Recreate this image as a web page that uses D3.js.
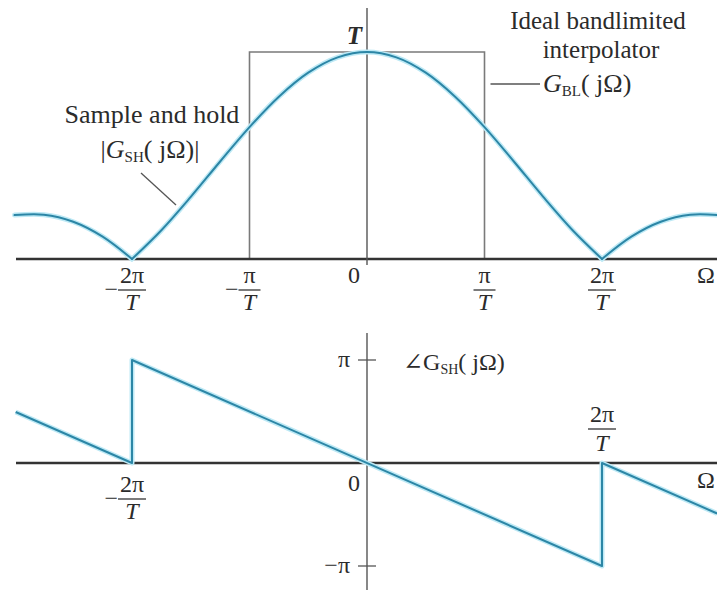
<!DOCTYPE html>
<html>
<head>
<meta charset="utf-8">
<script src="https://cdn.jsdelivr.net/npm/d3@7"></script>
<style>
  html, body { margin: 0; padding: 0; background: #fff; }
  svg { display: block; }
  text { font-family: "Liberation Serif", "DejaVu Serif", serif; fill: #2b2b2b; }
</style>
</head>
<body>
<svg id="chart" width="717" height="590"></svg>
<script>
// Frequency in units of pi/T, magnitude in units of T, phase in units of pi.
const magOmega  = [-3, -2.75, -2.5, -2.25, -2, -1.75, -1.5, -1.25, -1, -0.75, -0.5, -0.25, 0,
                   0.25, 0.5, 0.75, 1, 1.25, 1.5, 1.75, 2, 2.25, 2.5, 2.75, 3];
const magValues = [0.212, 0.214, 0.180, 0.108, 0, 0.139, 0.300, 0.471, 0.637, 0.784, 0.900, 0.974, 1,
                   0.974, 0.900, 0.784, 0.637, 0.471, 0.300, 0.139, 0, 0.108, 0.180, 0.214, 0.212];

// Ideal bandlimited interpolator: passband edges and gain
const idealOmega  = [-1, -1, 1, 1];
const idealValues = [0, 1, 1, 0];

// Phase of the sample-and-hold response (sawtooth with jumps at +-2pi/T)
const phaseOmega  = [-2.99, -2, -2, 2, 2, 2.98];
const phaseValues = [0.495, 0, 1, -1, 0, -0.49];

// Tick labels on the frequency axes
const topTicks    = [{v: -2, sign: true, num: "2π"}, {v: -1, sign: true, num: "π"},
                     {v: 1, sign: false, num: "π"}, {v: 2, sign: false, num: "2π"}];
const phaseTicks  = [{v: 1, label: "π"}, {v: -1, label: "−π"}];

const svg = d3.select("#chart");

const x = d3.scaleLinear().domain([-3, 3]).range([14.5, 719.5]);
const yMag = d3.scaleLinear().domain([0, 1]).range([259, 52]);
const yPh  = d3.scaleLinear().domain([-1, 1]).range([566, 360]);

const curveCore = "#2c86a6", curveGlow = "#bde9f5";
const tickFont = 24, annFont = 26;

// ---------- magnitude panel ----------
// ideal lowpass rectangle
const lineIdeal = d3.line().x((d, i) => x(idealOmega[i])).y(d => yMag(d));
svg.append("path").attr("d", lineIdeal(idealValues))
  .attr("fill", "none").attr("stroke", "#7a7a7a").attr("stroke-width", 1.6);

// axes
svg.append("line").attr("x1", 16).attr("x2", 717).attr("y1", yMag(0)).attr("y2", yMag(0))
  .attr("stroke", "#333").attr("stroke-width", 2.6);
svg.append("line").attr("x1", x(0)).attr("x2", x(0)).attr("y1", 8).attr("y2", yMag(0) + 6)
  .attr("stroke", "#555").attr("stroke-width", 1.4);

// magnitude curve, drawn lobe by lobe so the nulls stay sharp
const pts = magOmega.map((w, i) => [w, magValues[i]]);
const lobes = [];
let cur = [];
pts.forEach((p, i) => {
  cur.push(p);
  if (p[1] === 0 && i > 0 && i < pts.length - 1) { lobes.push(cur); cur = [p]; }
});
lobes.push(cur);
const lineMag = d3.line().x(d => x(d[0])).y(d => yMag(d[1])).curve(d3.curveCatmullRom.alpha(0.5));
lobes.forEach(l => {
  svg.append("path").attr("d", lineMag(l)).attr("fill", "none")
    .attr("stroke", curveGlow).attr("stroke-width", 5).attr("stroke-linecap", "round");
});
lobes.forEach(l => {
  svg.append("path").attr("d", lineMag(l)).attr("fill", "none")
    .attr("stroke", curveCore).attr("stroke-width", 2).attr("stroke-linecap", "round");
});

// fraction-style tick labels
function fraction(g, cx, numBase, barY, denBase, num, sign) {
  const w = num.length > 1 ? 14 : 11;
  g.append("text").attr("x", cx).attr("y", numBase).attr("text-anchor", "middle")
    .attr("font-size", tickFont).text(num);
  g.append("line").attr("x1", cx - w).attr("x2", cx + w).attr("y1", barY).attr("y2", barY)
    .attr("stroke", "#333").attr("stroke-width", 1.3);
  g.append("text").attr("x", cx).attr("y", denBase).attr("text-anchor", "middle")
    .attr("font-size", tickFont).attr("font-style", "italic").text("T");
  if (sign) {
    g.append("text").attr("x", cx - w).attr("y", barY + 7).attr("text-anchor", "end")
      .attr("font-size", tickFont).text("−");
  }
}
const gTop = svg.append("g");
topTicks.forEach(t => fraction(gTop, x(t.v), 283, 290, 310, t.num, t.sign));
gTop.append("text").attr("x", x(0) - 13).attr("y", 283).attr("text-anchor", "middle")
  .attr("font-size", tickFont).text("0");
gTop.append("text").attr("x", 706).attr("y", 283).attr("text-anchor", "middle")
  .attr("font-size", tickFont).text("Ω");
gTop.append("text").attr("x", x(0) - 5).attr("y", 44).attr("text-anchor", "end")
  .attr("font-size", 25).attr("font-style", "italic").attr("font-weight", "bold").text("T");

// annotations
const ann = svg.append("g").attr("font-size", annFont);
ann.append("text").attr("x", 152).attr("y", 123).attr("text-anchor", "middle").text("Sample and hold");
const gsh = ann.append("text").attr("x", 150).attr("y", 158).attr("text-anchor", "middle");
gsh.append("tspan").text("|");
gsh.append("tspan").attr("font-style", "italic").text("G");
gsh.append("tspan").attr("font-size", 15).attr("dy", 4).text("SH");
gsh.append("tspan").attr("dy", -4).text("( j");
gsh.append("tspan").text("Ω)|");
ann.append("line").attr("x1", 141).attr("y1", 173).attr("x2", 176).attr("y2", 205)
  .attr("stroke", "#555").attr("stroke-width", 1.3);

ann.append("text").attr("x", 598).attr("y", 29).attr("text-anchor", "middle")
  .attr("font-size", 25).text("Ideal bandlimited");
ann.append("text").attr("x", 601).attr("y", 58).attr("text-anchor", "middle")
  .attr("font-size", 25).text("interpolator");
ann.append("line").attr("x1", x(1) + 6).attr("y1", 84).attr("x2", 540).attr("y2", 84)
  .attr("stroke", "#555").attr("stroke-width", 1.3);
const gbl = ann.append("text").attr("x", 543).attr("y", 92);
gbl.append("tspan").attr("font-style", "italic").text("G");
gbl.append("tspan").attr("font-size", 15).attr("dy", 4).text("BL");
gbl.append("tspan").attr("dy", -4).text("( j");
gbl.append("tspan").text("Ω)");

// ---------- phase panel ----------
svg.append("line").attr("x1", 16).attr("x2", 717).attr("y1", yPh(0)).attr("y2", yPh(0))
  .attr("stroke", "#333").attr("stroke-width", 2.6);
svg.append("line").attr("x1", x(0)).attr("x2", x(0)).attr("y1", 333).attr("y2", 590)
  .attr("stroke", "#555").attr("stroke-width", 1.4);
phaseTicks.forEach(t => {
  svg.append("line").attr("x1", x(0) - 9).attr("x2", x(0) + 9).attr("y1", yPh(t.v)).attr("y2", yPh(t.v))
    .attr("stroke", "#555").attr("stroke-width", 1.3);
  svg.append("text").attr("x", x(0) - 17).attr("y", yPh(t.v) + 7).attr("text-anchor", "end")
    .attr("font-size", tickFont).text(t.label);
});

const linePh = d3.line().x((d, i) => x(phaseOmega[i])).y(d => yPh(d));
svg.append("path").attr("d", linePh(phaseValues)).attr("fill", "none")
  .attr("stroke", curveGlow).attr("stroke-width", 5).attr("stroke-linejoin", "round");
svg.append("path").attr("d", linePh(phaseValues)).attr("fill", "none")
  .attr("stroke", curveCore).attr("stroke-width", 2).attr("stroke-linejoin", "round");

const gBot = svg.append("g");
fraction(gBot, x(-2), 492, 499, 519, "2π", true);
fraction(gBot, x(2), 422, 429, 451, "2π", false);
gBot.append("text").attr("x", x(0) - 13).attr("y", 491).attr("text-anchor", "middle")
  .attr("font-size", tickFont).text("0");
gBot.append("text").attr("x", 706).attr("y", 488).attr("text-anchor", "middle")
  .attr("font-size", tickFont).text("Ω");
const gph = gBot.append("text").attr("x", 403).attr("y", 370).attr("font-size", 24).attr("fill", "#444");
gph.append("tspan").text("∠G");
gph.append("tspan").attr("font-size", 14).attr("dy", 4).text("SH");
gph.append("tspan").attr("dy", -4).text("( j");
gph.append("tspan").text("Ω)");
</script>
</body>
</html>
